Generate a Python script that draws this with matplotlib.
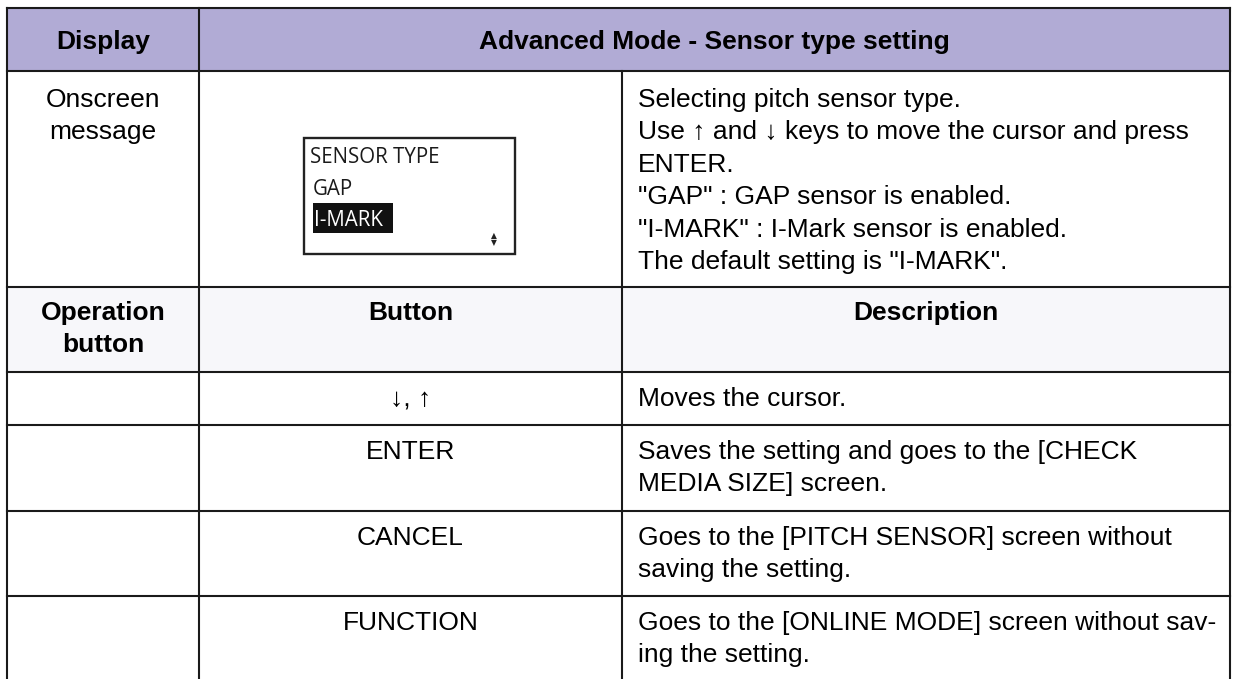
"""
    Advanced Mode - Sensor type setting table
"""
import matplotlib
matplotlib.use("Agg")
import matplotlib.pyplot as plt
from matplotlib.patches import Rectangle

plt.rcParams['font.family'] = ['Liberation Sans', 'DejaVu Sans']

title = "Advanced Mode - Sensor type setting"
head_display = "Display"
row_label = ["Onscreen", "message"]
op_label = ["Operation", "button"]
col_button = "Button"
col_desc = "Description"

lcd_lines = ["SENSOR TYPE", "GAP", "I-MARK"]
screen_desc = [
    "Selecting pitch sensor type.",
    "Use \u2191 and \u2193 keys to move the cursor and press",
    "ENTER.",
    "\"GAP\" : GAP sensor is enabled.",
    "\"I-MARK\" : I-Mark sensor is enabled.",
    "The default setting is \"I-MARK\".",
]

buttons = ["\u2193, \u2191", "ENTER", "CANCEL", "FUNCTION"]
descriptions = [
    ["Moves the cursor."],
    ["Saves the setting and goes to the [CHECK", "MEDIA SIZE] screen."],
    ["Goes to the [PITCH SENSOR] screen without", "saving the setting."],
    ["Goes to the [ONLINE MODE] screen without sav-", "ing the setting."],
]

# layout in pixels
W, H = 1234, 679
xs = [7, 199, 622, 1230]
ys = [8, 71, 287, 372, 425, 511, 596, 684]
fs = 19.0
lead = 32.5
line_c = '#1a1a1a'

fig = plt.figure(figsize=(W / 100, H / 100), dpi=100)
ax = fig.add_axes([0, 0, 1, 1])
ax.set_xlim(0, W)
ax.set_ylim(H, 0)
ax.axis('off')

# fills
ax.add_patch(Rectangle((xs[0], ys[0]), xs[3] - xs[0], ys[1] - ys[0],
                       facecolor='#b1abd5', edgecolor='none'))
ax.add_patch(Rectangle((xs[0], ys[2]), xs[3] - xs[0], ys[3] - ys[2],
                       facecolor='#f7f7fa', edgecolor='none'))

# grid lines
for y in ys:
    ax.plot([xs[0], xs[3]], [y, y], color=line_c, lw=1.5, solid_capstyle='projecting')
for x in (xs[0], xs[1], xs[3]):
    ax.plot([x, x], [ys[0], ys[-1]], color=line_c, lw=1.5)
ax.plot([xs[2], xs[2]], [ys[1], ys[-1]], color=line_c, lw=1.5)

c1 = (xs[0] + xs[1]) / 2
c2 = (xs[1] + xs[2]) / 2
c3 = (xs[2] + xs[3]) / 2
tx = 638

# header row
ax.text(c1, 48.8, head_display, ha='center', va='baseline', fontsize=fs, fontweight='bold')
ax.text((xs[1] + xs[3]) / 2, 48.8, title, ha='center', va='baseline', fontsize=fs,
        fontweight='bold')

# onscreen message row
for i, s in enumerate(row_label):
    ax.text(c1, 106.7 + i * lead, s, ha='center', va='baseline', fontsize=fs)
for i, s in enumerate(screen_desc):
    ax.text(tx, 106.7 + i * lead, s, ha='left', va='baseline', fontsize=fs)

# lcd screen
ax.add_patch(Rectangle((304, 138), 211, 116, facecolor='white', edgecolor='#222222', lw=1.7))
ax.add_patch(Rectangle((313, 203), 80, 30, facecolor='#111111', edgecolor='none'))
lcd_base = [163.3, 195, 226]
lcd_x = [310.5, 313, 313.5]
for i, s in enumerate(lcd_lines):
    ax.text(lcd_x[i], lcd_base[i], s, ha='left', va='baseline', fontsize=14.8,
            family=['Open Sans', 'DejaVu Sans'], color='white' if i == 2 else '#1a1a1a')
ax.text(494, 235.5, "\u25b2", ha='center', va='center', fontsize=5.5, family='DejaVu Sans',
        color='#222222')
ax.text(494, 242.5, "\u25bc", ha='center', va='center', fontsize=5.5, family='DejaVu Sans',
        color='#222222')

# operation header
for i, s in enumerate(op_label):
    ax.text(c1, 320 + i * lead, s, ha='center', va='baseline', fontsize=fs, fontweight='bold')
ax.text(c2, 320, col_button, ha='center', va='baseline', fontsize=fs, fontweight='bold')
ax.text(c3, 320, col_desc, ha='center', va='baseline', fontsize=fs, fontweight='bold')

# button rows
for r, (b, d) in enumerate(zip(buttons, descriptions)):
    top = ys[3 + r]
    base = top + 33.8
    ax.text(c2, base, b, ha='center', va='baseline', fontsize=fs)
    for i, s in enumerate(d):
        ax.text(tx, base + i * lead, s, ha='left', va='baseline', fontsize=fs)

fig.savefig('out.png', dpi=100, facecolor='white')
